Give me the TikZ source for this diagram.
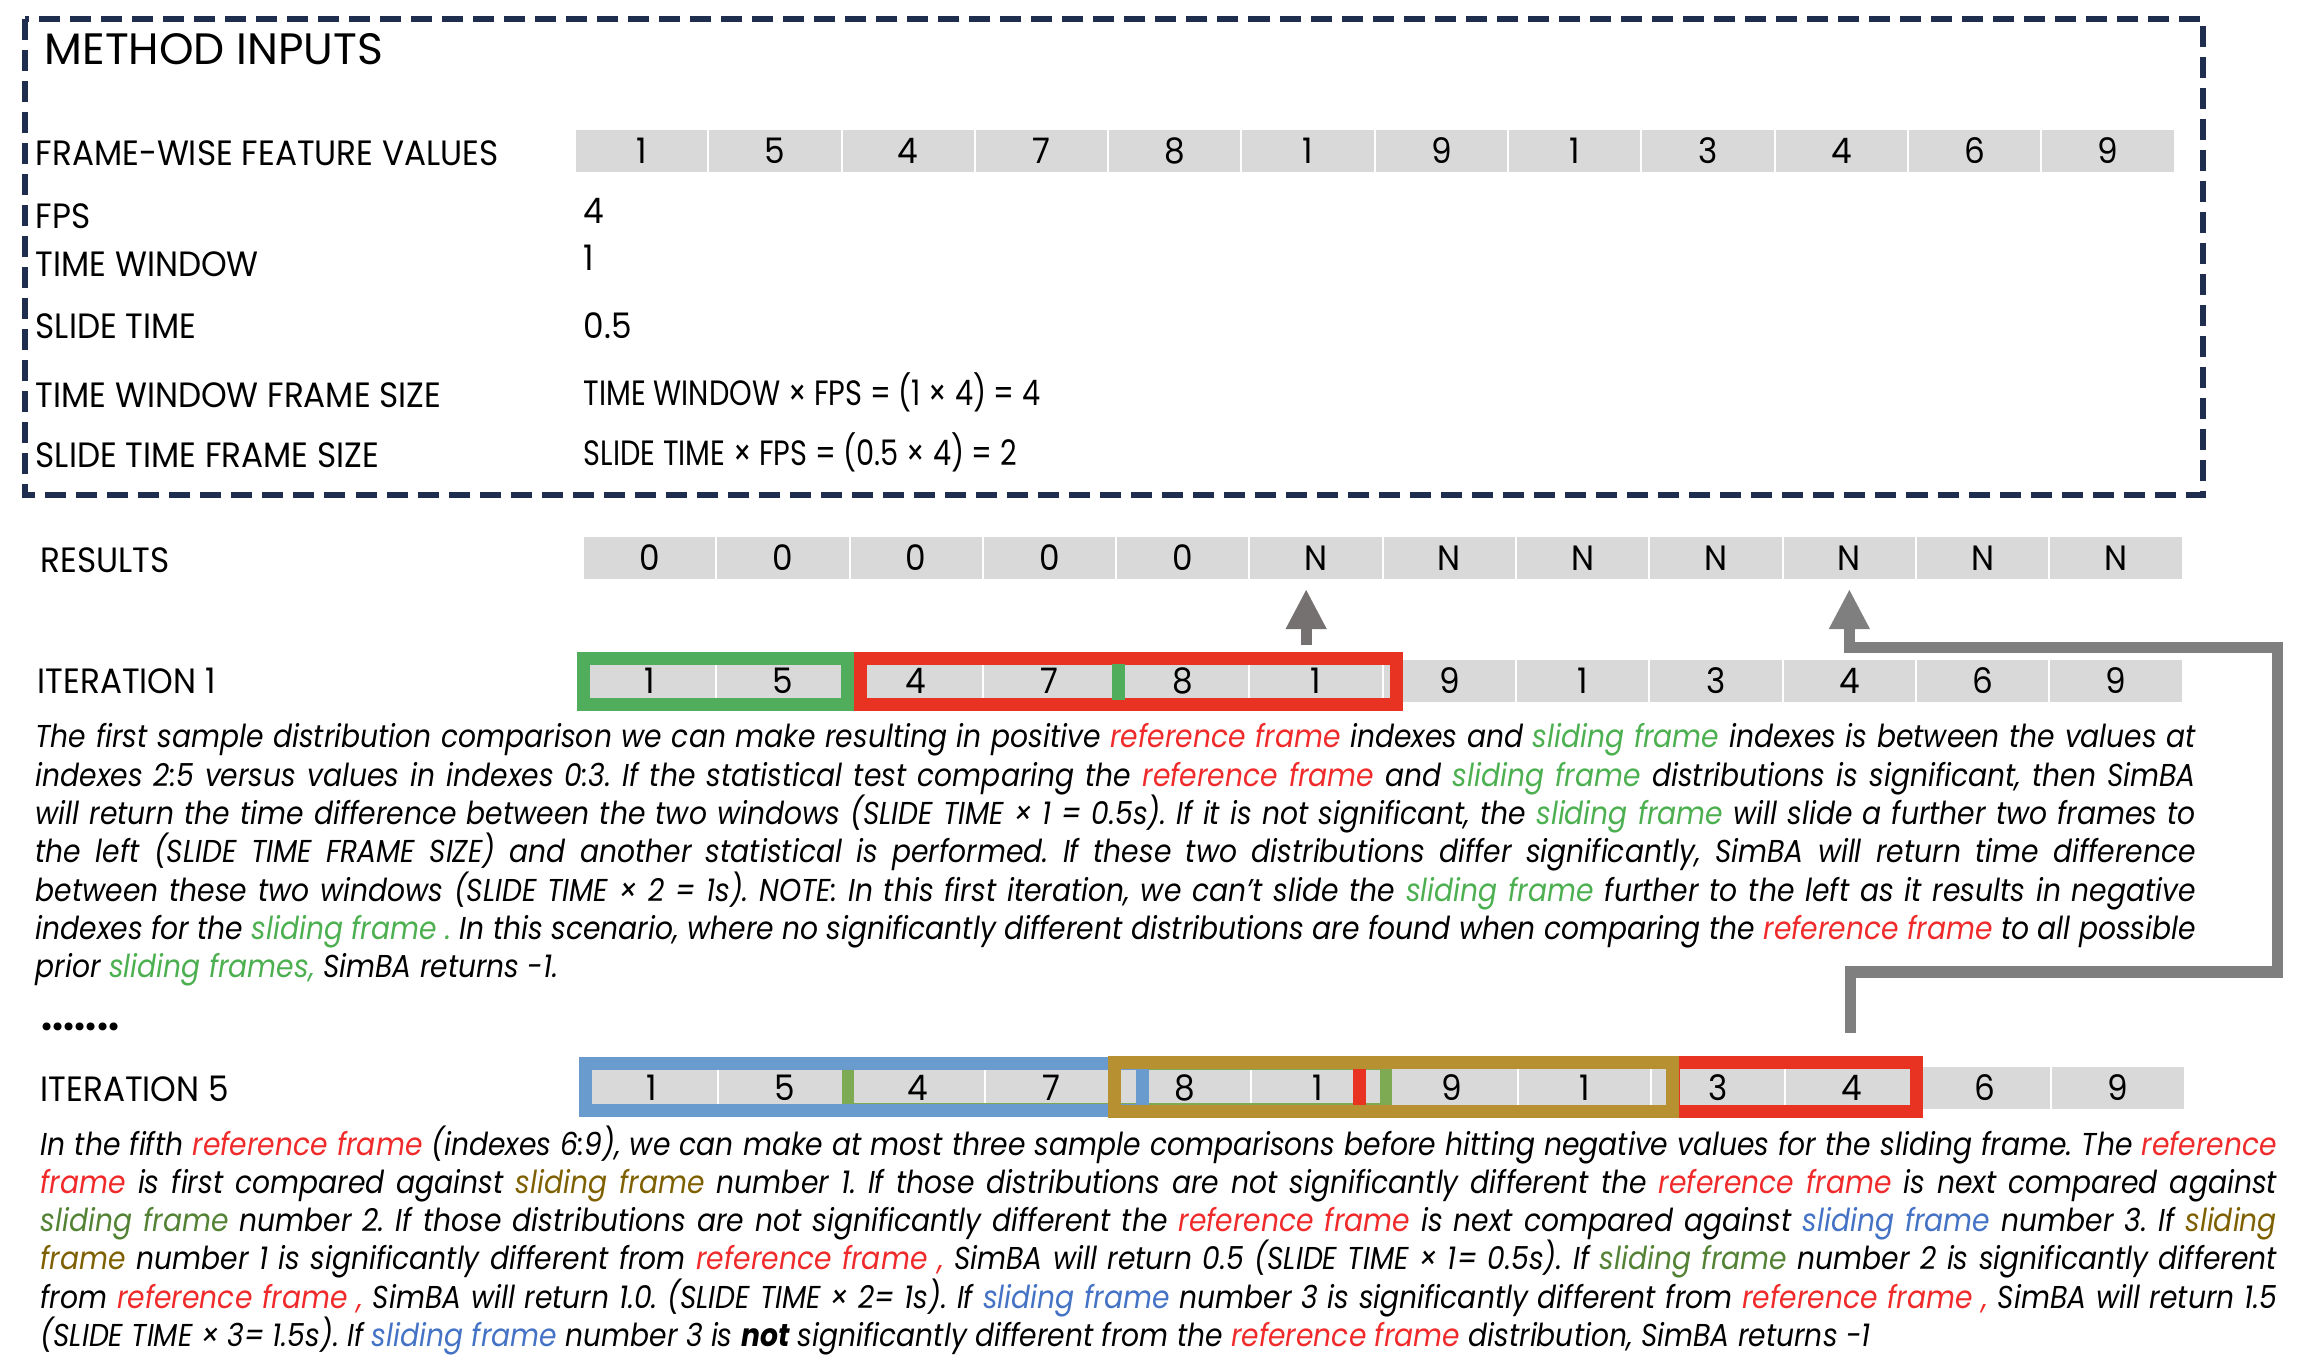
\documentclass[tikz,border=0pt]{standalone}
\usepackage{fontspec}
\setmainfont{Poppins}[FakeStretch=0.93]
\newfontfamily\headfont{Poppins}
\newfontfamily\bodyfont{Poppins}[FakeStretch=0.89]
\newfontfamily\formfont{Poppins}[FakeStretch=0.82]
\usetikzlibrary{arrows.meta}

\definecolor{navy}{HTML}{1F2D4E}
\definecolor{cellgrey}{HTML}{D9D9D9}
\definecolor{refred}{HTML}{E83323}
\definecolor{txtred}{HTML}{F02A2A}
\definecolor{slgreen}{HTML}{50AD5C}
\definecolor{txtgreen}{HTML}{4CAF50}
\definecolor{slgold}{HTML}{B79131}
\definecolor{txtgold}{HTML}{7F6000}
\definecolor{slgreentwo}{HTML}{7EAA54}
\definecolor{txtgreentwo}{HTML}{548235}
\definecolor{slblue}{HTML}{6A9BCE}
\definecolor{txtblue}{HTML}{4472C4}
\definecolor{arrgrey}{HTML}{7F7F7F}
\definecolor{arrgreyb}{HTML}{767171}

\newcommand{\rfr}[1]{\textcolor{txtred}{#1}}
\newcommand{\sfg}[1]{\textcolor{txtgreen}{#1}}
\newcommand{\sfo}[1]{\textcolor{txtgold}{#1}}
\newcommand{\sft}[1]{\textcolor{txtgreentwo}{#1}}
\newcommand{\sfb}[1]{\textcolor{txtblue}{#1}}

\begin{document}
\begin{tikzpicture}[x=0.01cm, y=-0.01cm,
    cell/.style={fill=cellgrey, draw=white, line width=0.02cm, minimum width=1.333cm,
      minimum height=0.44cm, inner sep=0, font=\fontsize{10}{12}\selectfont},
    lbl/.style={anchor=base west, inner sep=0, font=\fontsize{10}{12}\selectfont},
    winbox/.style={draw=#1, line width=0.13cm, inner sep=0},
    arr/.style={draw=#1, line width=0.11cm, -{Triangle[width=0.38cm,length=0.40cm]}},
    para/.style={anchor=base west, inner sep=0, align=justify,
      font=\fontsize{9}{10.9}\bodyfont\itshape\frenchspacing}]
  \useasboundingbox (0,0) rectangle (2298,1368);

  % method inputs
  \draw[navy, line width=0.065cm, dash pattern=on 0.21cm off 0.10cm] (25,19) rectangle (2203,495);
  \node[lbl, font=\fontsize{12.5}{14}\headfont] (title) at (44,65) {METHOD INPUTS};
  \node[lbl] (lfeat) at (35,166) {FRAME-WISE FEATURE VALUES};
  \node[lbl] (lfps) at (35,229) {FPS};
  \node[lbl] (ltw) at (35,277) {TIME WINDOW};
  \node[lbl] (lst) at (35,339) {SLIDE TIME};
  \node[lbl] (ltwfs) at (35,408) {TIME WINDOW FRAME SIZE};
  \node[lbl] (lstfs) at (35,468) {SLIDE TIME FRAME SIZE};
  \node[lbl] (vfps) at (583,224) {4};
  \node[lbl] (vtw) at (583,271) {1};
  \node[lbl] (vst) at (583,339) {0.5};
  \node[lbl, font=\fontsize{10}{12}\formfont] (vtwfs) at (583,406) {TIME WINDOW × FPS = (1 × 4) = 4};
  \node[lbl, font=\fontsize{10}{12}\formfont] (vstfs) at (583,466) {SLIDE TIME × FPS = (0.5 × 4) = 2};
  \foreach \v [count=\i from 0] in {1,5,4,7,8,1,9,1,3,4,6,9}
    \node[cell] (f\i) at ({641.65+\i*133.3},151) {\v};

  % results
  \node[lbl] (lres) at (40,573) {RESULTS};
  \foreach \v [count=\i from 0] in {0,0,0,0,0,N,N,N,N,N,N,N}
    \node[cell] (r\i) at ({649.65+\i*133.3},558) {\v};

  % iteration 1
  \node[lbl] (lit1) at (37,694) {ITERATION 1};
  \foreach \v [count=\i from 0] in {1,5,4,7,8,1,9,1,3,4,6,9}
    \node[cell] (a\i) at ({649.65+\i*133.3},681) {\v};
  \node[winbox=slgreen, minimum width=2.64cm, minimum height=0.46cm] (slide1) at (715.5,681.5) {};
  \node[winbox=refred, minimum width=5.36cm, minimum height=0.46cm] (ref1) at (1128.5,681.5) {};
  \fill[slgreen] (1112,664) rectangle (1125,700);
  \draw[arr=arrgreyb] ([yshift=0.065cm,xshift=-0.1cm]ref1.north -| r5.south) -- ([yshift=-0.08cm,xshift=-0.1cm]r5.south);

  \node[para, text width=21.59cm] (txt1) at (35,748) {The first sample distribution comparison we can make resulting in positive \rfr{reference frame} indexes and \sfg{sliding frame} indexes is between the values at\linebreak
  indexes 2:5 versus values in indexes 0:3. If the statistical test comparing the \rfr{reference frame} and \sfg{sliding frame} distributions is significant, then SimBA\linebreak
  will return the time difference between the two windows (SLIDE TIME × 1 = 0.5s). If it is not significant, the \sfg{sliding frame} will slide a further two frames to\linebreak
  the left (SLIDE TIME FRAME SIZE) and another statistical is performed. If these two distributions differ significantly, SimBA will return time difference\linebreak
  between these two windows (SLIDE TIME × 2 = 1s). NOTE: In this first iteration, we can’t slide the \sfg{sliding frame} further to the left as it results in negative\linebreak
  indexes for the \sfg{sliding frame .} In this scenario, where no significantly different distributions are found when comparing the \rfr{reference frame} to all possible\linebreak
  prior \sfg{sliding frames,} SimBA returns -1.};

  % iteration 5
  \node[lbl, font=\fontsize{12}{14}\selectfont\bfseries] (dots) at (41,1030) {.......};
  \node[lbl] (lit5) at (40,1101) {ITERATION 5};
  \foreach \v [count=\i from 0] in {1,5,4,7,8,1,9,1,3,4,6,9}
    \node[cell] (b\i) at ({651.65+\i*133.3},1088) {\v};
  \node[winbox=slgreentwo, line width=0.12cm, minimum width=5.38cm, minimum height=0.45cm] (slide2) at (1117,1086.5) {};
  \node[winbox=slblue, minimum width=5.57cm, minimum height=0.47cm] (slide3) at (864,1087) {};
  \node[winbox=refred, minimum width=2.43cm, minimum height=0.49cm] (ref5) at (1795,1087) {};
  \node[winbox=slgold, minimum width=5.58cm, minimum height=0.49cm] (slide1b) at (1393.5,1087) {};
  \fill[refred] (1353,1069) rectangle (1366,1105);

  \coordinate (a2a) at (1850,1033);
  \coordinate (a2b) at (2277,972);
  \coordinate (a2c) at (2277,648);
  \draw[arr=arrgrey] (a2a) |- (a2b) -- (a2c) -| ([yshift=-0.08cm]r9.south);

  \node[para, text width=22.35cm] (txt5) at (40,1155) {In the fifth \rfr{reference frame} (indexes 6:9), we can make at most three sample comparisons before hitting negative values for the sliding frame. The \rfr{reference}\linebreak
  \rfr{frame} is first compared against \sfo{sliding frame} number 1. If those distributions are not significantly different the \rfr{reference frame} is next compared against\linebreak
  \sft{sliding frame} number 2. If those distributions are not significantly different the \rfr{reference frame} is next compared against \sfb{sliding frame} number 3. If \sfo{sliding}\linebreak
  \sfo{frame} number 1 is significantly different from \rfr{reference frame ,} SimBA will return 0.5 (SLIDE TIME × 1= 0.5s). If \sft{sliding frame} number 2 is significantly different\linebreak
  from \rfr{reference frame ,} SimBA will return 1.0. (SLIDE TIME × 2= 1s). If \sfb{sliding frame} number 3 is significantly different from \rfr{reference frame ,} SimBA will return 1.5\linebreak
  (SLIDE TIME × 3= 1.5s). If \sfb{sliding frame} number 3 is \textbf{not} significantly different from the \rfr{reference frame} distribution, SimBA returns -1};
\end{tikzpicture}
\end{document}
